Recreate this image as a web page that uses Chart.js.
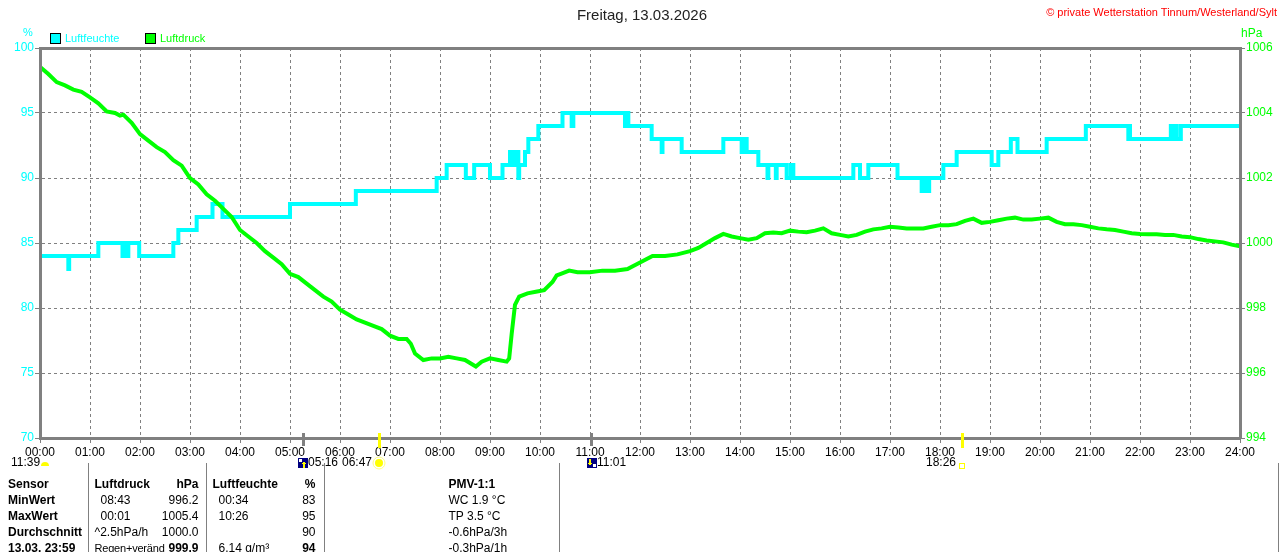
<!DOCTYPE html>
<html lang="de">
<head>
<meta charset="utf-8">
<title>Freitag, 13.03.2026</title>
<script src="https://cdn.jsdelivr.net/npm/chart.js@4.4.1/dist/chart.umd.min.js"></script>
<style>
    body { margin: 0; background: #fff; font-family: "Liberation Sans", Arial, sans-serif; }
    #wrap { position: relative; width: 1280px; height: 552px; overflow: hidden; }
    #chart { position: absolute; left: 0; top: 0; }
    .lbl { position: absolute; white-space: nowrap; font-size: 12px; line-height: 14px; }
    .box { position: absolute; width: 9px; height: 9px; border: 1px solid #000; }
    #info { position: absolute; left: 0; top: 463px; width: 1278px; border-collapse: collapse; table-layout: fixed; font-size: 12px; }
    #info td { height: 16px; line-height: 16px; padding: 0; white-space: nowrap; overflow: visible; }
    #info tr.gap td { height: 13px; }
    #info .sep { border-left: 1px solid #808080; }
    #info .last { border-right: 1px solid #808080; }
    #info .b { font-weight: bold; }
    #info .name { padding-left: 8px; font-weight: bold; }
    #info .time { padding-left: 12px; }
    #info .head { padding-left: 6px; }
    #info .num { text-align: right; }
    #info .pmv { padding-left: 124px; }
    #info .narrow { font-size: 11px; letter-spacing: -0.2px; }
</style>
</head>
<body>
<div id="wrap">
    <canvas id="chart" width="1280" height="552"></canvas>

    <div class="lbl" style="left:0; width:1284px; top:6px; text-align:center; font-size:15px; line-height:18px; color:#222;">Freitag, 13.03.2026</div>
    <div class="lbl" style="right:3px; top:5px; font-size:11px; color:#ff0000;">© private Wetterstation Tinnum/Westerland/Sylt</div>

    <div class="lbl" style="left:23px; top:25px; font-size:11px; color:#00ffff;">%</div>
    <div class="lbl" style="left:1241px; top:26px; color:#00ff00;">hPa</div>

    <div class="box" style="left:50px; top:33px; background:#00ffff;"></div>
    <div class="lbl" style="left:65px; top:31px; font-size:11px; color:#00ffff;">Luftfeuchte</div>
    <div class="box" style="left:145px; top:33px; background:#00ff00;"></div>
    <div class="lbl" style="left:160px; top:31px; font-size:11px; color:#00ff00;">Luftdruck</div>

    <table id="info">
        <colgroup>
            <col style="width:88px"><col style="width:62px"><col style="width:56px">
            <col style="width:60px"><col style="width:58px"><col style="width:235px"><col style="width:719px">
        </colgroup>
        <tr class="gap"><td></td><td class="sep"></td><td></td><td class="sep"></td><td></td><td class="sep"></td><td class="sep last"></td></tr>
        <tr>
            <td class="name">Sensor</td>
            <td class="sep head b">Luftdruck</td><td class="num b" style="padding-right:7px">hPa</td>
            <td class="sep head b">Luftfeuchte</td><td class="num b" style="padding-right:8px">%</td>
            <td class="sep pmv b">PMV-1:1</td><td class="sep last"></td>
        </tr>
        <tr>
            <td class="name">MinWert</td>
            <td class="sep time">08:43</td><td class="num" style="padding-right:7px">996.2</td>
            <td class="sep time">00:34</td><td class="num" style="padding-right:8px">83</td>
            <td class="sep pmv">WC 1.9 °C</td><td class="sep last"></td>
        </tr>
        <tr>
            <td class="name">MaxWert</td>
            <td class="sep time">00:01</td><td class="num" style="padding-right:7px">1005.4</td>
            <td class="sep time">10:26</td><td class="num" style="padding-right:8px">95</td>
            <td class="sep pmv">TP 3.5 °C</td><td class="sep last"></td>
        </tr>
        <tr>
            <td class="name">Durchschnitt</td>
            <td class="sep head">^2.5hPa/h</td><td class="num" style="padding-right:7px">1000.0</td>
            <td class="sep time"></td><td class="num" style="padding-right:8px">90</td>
            <td class="sep pmv">-0.6hPa/3h</td><td class="sep last"></td>
        </tr>
        <tr>
            <td class="name">13.03. 23:59</td>
            <td class="sep head narrow">Regen+veränd</td><td class="num b" style="padding-right:7px">999.9</td>
            <td class="sep time">6.14 g/m³</td><td class="num b" style="padding-right:8px">94</td>
            <td class="sep pmv">-0.3hPa/1h</td><td class="sep last"></td>
        </tr>
    </table>
</div>

<script>
// x axis: minutes since midnight
const hourTicks = [0, 60, 120, 180, 240, 300, 360, 420, 480, 540, 600, 660, 720, 780, 840, 900, 960, 1020, 1080, 1140, 1200, 1260, 1320, 1380, 1440];
const hourLabels = ['00:00', '01:00', '02:00', '03:00', '04:00', '05:00', '06:00', '07:00', '08:00', '09:00', '10:00', '11:00',
    '12:00', '13:00', '14:00', '15:00', '16:00', '17:00', '18:00', '19:00', '20:00', '21:00', '22:00', '23:00', '24:00'];

const humTicks = [70, 75, 80, 85, 90, 95, 100];
const pressTicks = [994, 996, 998, 1000, 1002, 1004, 1006];

// Luftfeuchte (%) - minute at which the reading changes, new value
const humTime = [0, 34, 35, 70, 99, 101, 103, 106, 119, 160, 166, 188, 207, 219, 300, 379, 476, 488, 511, 521,
    540, 555, 564, 566, 567, 569, 570, 574, 575, 582, 586, 598, 627, 638, 640, 702, 704, 706, 734, 746,
    747, 770, 820, 842, 843, 845, 847, 848, 862, 873, 874, 883, 884, 896, 901, 904, 976, 984, 994, 1029,
    1058, 1061, 1063, 1067, 1084, 1100, 1142, 1150, 1165, 1173, 1208, 1255, 1306, 1307, 1308, 1357, 1359, 1361, 1364, 1369,
    1440];
const humValue = [84, 83, 84, 85, 84, 85, 84, 85, 84, 85, 86, 87, 88, 87, 88, 89, 90, 91, 90, 91,
    90, 91, 92, 91, 92, 91, 92, 90, 91, 92, 93, 94, 95, 94, 95, 94, 95, 94, 93, 92,
    93, 92, 93, 92, 93, 92, 93, 92, 91, 90, 91, 90, 91, 90, 91, 90, 91, 90, 91, 90,
    89, 90, 89, 90, 91, 92, 91, 92, 93, 92, 93, 94, 93, 94, 93, 94, 93, 94, 93, 94,
    94];

// Luftdruck (hPa)
const pressTime = [0, 1, 10, 20, 30, 40, 50, 60, 70, 80, 90, 96, 100, 110, 120, 130, 140, 150, 160, 170,
    180, 190, 200, 210, 220, 230, 240, 250, 260, 270, 280, 290, 300, 310, 320, 330, 340, 350, 360, 370,
    380, 390, 400, 410, 420, 430, 440, 445, 450, 460, 470, 480, 490, 500, 510, 523, 530, 540, 550, 560,
    563, 566, 570, 575, 585, 595, 605, 615, 620, 625, 635, 645, 660, 675, 690, 705, 720, 735, 750, 765,
    780, 790, 800, 810, 820, 830, 840, 850, 860, 870, 880, 890, 900, 910, 920, 930, 940, 950, 960, 970,
    980, 990, 1000, 1010, 1020, 1030, 1040, 1050, 1060, 1070, 1080, 1090, 1100, 1110, 1120, 1130, 1140, 1150, 1160, 1170,
    1180, 1190, 1200, 1210, 1220, 1230, 1240, 1250, 1260, 1270, 1280, 1290, 1300, 1310, 1320, 1330, 1340, 1350, 1360, 1370,
    1380, 1390, 1400, 1410, 1420, 1430, 1440];
const pressValue = [1005.35, 1005.4, 1005.2, 1004.95, 1004.85, 1004.72, 1004.65, 1004.48, 1004.3, 1004.05, 1004.0, 1003.92, 1003.95, 1003.7, 1003.35, 1003.15, 1002.95, 1002.8, 1002.55, 1002.38,
    1002.0, 1001.8, 1001.5, 1001.3, 1001.05, 1000.8, 1000.4, 1000.2, 1000.0, 999.75, 999.55, 999.35, 999.05, 998.95, 998.75, 998.55, 998.35, 998.2, 997.95, 997.8,
    997.65, 997.55, 997.45, 997.35, 997.15, 997.05, 997.05, 996.9, 996.6, 996.4, 996.45, 996.45, 996.5, 996.45, 996.4, 996.2, 996.35, 996.45, 996.4, 996.35,
    996.45, 997.2, 998.1, 998.35, 998.45, 998.5, 998.55, 998.8, 999.0, 999.05, 999.15, 999.1, 999.1, 999.15, 999.15, 999.2, 999.4, 999.6, 999.6, 999.65,
    999.75, 999.85, 1000.0, 1000.15, 1000.28, 1000.2, 1000.15, 1000.1, 1000.15, 1000.3, 1000.32, 1000.3, 1000.38, 1000.35, 1000.33, 1000.38, 1000.45, 1000.3, 1000.25, 1000.2,
    1000.25, 1000.35, 1000.42, 1000.45, 1000.5, 1000.48, 1000.45, 1000.45, 1000.45, 1000.5, 1000.55, 1000.55, 1000.58, 1000.68, 1000.75, 1000.62, 1000.65, 1000.7, 1000.75, 1000.78,
    1000.72, 1000.72, 1000.75, 1000.78, 1000.65, 1000.58, 1000.58, 1000.55, 1000.5, 1000.45, 1000.42, 1000.4, 1000.35, 1000.3, 1000.28, 1000.27, 1000.27, 1000.25, 1000.25, 1000.2,
    1000.18, 1000.12, 1000.08, 1000.05, 1000.02, 999.95, 999.9];

const gray = '#808080';
const cyan = '#00ffff';
const green = '#00ff00';
const axisFont = { family: '"Liberation Sans", Arial, sans-serif', size: 12 };

// Sonne / Mond marks under the time axis
const sunMoonPlugin = {
    id: 'sunMoon',
    afterDraw(chart) {
        const ctx = chart.ctx;
        const x = chart.scales.x;
        const px = (m) => Math.round(x.getPixelForValue(m));

        ctx.save();
        // moon rise / set ticks
        ctx.fillStyle = gray;
        [316, 661].forEach(m => ctx.fillRect(px(m) - 1, 433, 3, 13));
        // sunrise / sunset ticks
        ctx.fillStyle = '#ffff00';
        [407, 1106].forEach(m => ctx.fillRect(px(m) - 1, 433, 3, 15));

        ctx.font = '12px "Liberation Sans", Arial, sans-serif';
        ctx.textBaseline = 'middle';
        ctx.fillStyle = '#000';

        // day length
        ctx.textAlign = 'left';
        ctx.fillText('11:39', 11, 463);
        ctx.fillStyle = '#ffff00';
        ctx.beginPath();
        ctx.arc(45, 466, 4, Math.PI, 0);
        ctx.fill();

        // moonrise 05:16
        let mx = px(316) - 5;
        ctx.fillStyle = '#000080';
        ctx.fillRect(mx, 458, 10, 10);
        ctx.fillStyle = '#ffffff';
        ctx.fillRect(mx + 1, 459, 3, 3);
        ctx.fillStyle = '#ffff00';
        ctx.fillRect(mx + 5, 462, 2, 6);
        ctx.fillRect(mx + 4, 463, 4, 1);
        ctx.fillStyle = '#000';
        ctx.fillText('05:16', mx + 10, 463);

        // sunrise 06:47
        const sx = px(407);
        ctx.textAlign = 'right';
        ctx.fillText('06:47', sx - 7, 463);
        ctx.fillStyle = '#ffff00';
        ctx.beginPath();
        ctx.arc(sx, 463, 4, 0, Math.PI * 2);
        ctx.fill();
        ctx.strokeStyle = '#ffff80';
        ctx.lineWidth = 1;
        ctx.beginPath();
        ctx.arc(sx, 463, 6, 0, Math.PI * 2);
        ctx.stroke();

        // moonset 11:01
        mx = px(661) - 4;
        ctx.fillStyle = '#000080';
        ctx.fillRect(mx, 458, 10, 10);
        ctx.fillStyle = '#ffffff';
        ctx.fillRect(mx + 6, 464, 3, 3);
        ctx.fillStyle = '#ffff00';
        ctx.fillRect(mx + 2, 459, 2, 6);
        ctx.fillRect(mx + 1, 463, 4, 1);
        ctx.fillStyle = '#000';
        ctx.textAlign = 'left';
        ctx.fillText('11:01', mx + 10, 463);

        // sunset 18:26
        const ux = px(1106);
        ctx.textAlign = 'right';
        ctx.fillText('18:26', ux - 6, 463);
        ctx.strokeStyle = '#ffff00';
        ctx.strokeRect(ux - 2.5, 463.5, 5, 5);
        ctx.restore();
    }
};

new Chart(document.getElementById('chart'), {
    type: 'line',
    data: {
        datasets: [{
            label: 'Luftfeuchte',
            data: humTime.map((t, i) => ({ x: t, y: humValue[i] })),
            yAxisID: 'y',
            borderColor: cyan,
            borderWidth: 4,
            pointRadius: 0,
            stepped: 'before',
            order: 1
        }, {
            label: 'Luftdruck',
            data: pressTime.map((t, i) => ({ x: t, y: pressValue[i] })),
            yAxisID: 'y2',
            borderColor: green,
            borderWidth: 4,
            pointRadius: 0,
            tension: 0,
            order: 0
        }]
    },
    options: {
        responsive: false,
        animation: false,
        layout: { padding: { top: 48, bottom: 90, left: 0, right: 0 } },
        plugins: {
            legend: { display: false },
            title: { display: false },
            tooltip: { enabled: false }
        },
        scales: {
            x: {
                type: 'linear',
                min: 0,
                max: 1440,
                afterBuildTicks: (scale) => { scale.ticks = hourTicks.map(v => ({ value: v })); },
                afterFit: (scale) => { scale.height = 24; },
                ticks: {
                    color: '#000',
                    font: axisFont,
                    padding: 1,
                    maxRotation: 0,
                    autoSkip: false,
                    callback: (v) => hourLabels[hourTicks.indexOf(v)]
                },
                grid: {
                    color: gray,
                    lineWidth: 1,
                    tickLength: 6,
                    tickColor: gray,
                    tickBorderDash: [3, 3]
                },
                border: { display: true, color: gray, width: 3, dash: [3, 3], z: 1 }
            },
            xTop: {
                type: 'linear',
                position: 'top',
                min: 0,
                max: 1440,
                afterFit: (scale) => { scale.height = 0; },
                ticks: { display: false },
                grid: { drawOnChartArea: false, drawTicks: false },
                border: { display: true, color: gray, width: 3, z: 1 }
            },
            y: {
                position: 'left',
                min: 70,
                max: 100,
                afterBuildTicks: (scale) => { scale.ticks = humTicks.map(v => ({ value: v })); },
                afterFit: (scale) => { scale.width = 40; },
                ticks: { color: cyan, font: axisFont, padding: 1, callback: (v) => String(v) },
                grid: {
                    color: gray,
                    lineWidth: 1,
                    tickLength: 5,
                    tickColor: gray
                },
                border: { display: true, color: gray, width: 3, dash: [3, 3], z: 1 }
            },
            y2: {
                position: 'right',
                min: 994,
                max: 1006,
                afterBuildTicks: (scale) => { scale.ticks = pressTicks.map(v => ({ value: v })); },
                afterFit: (scale) => { scale.width = 40; },
                ticks: { color: green, font: axisFont, padding: 1, callback: (v) => String(v) },
                grid: { drawOnChartArea: false, tickLength: 5, tickColor: gray },
                border: { display: true, color: gray, width: 3, z: 1 }
            }
        }
    },
    plugins: [sunMoonPlugin]
});
</script>
</body>
</html>
